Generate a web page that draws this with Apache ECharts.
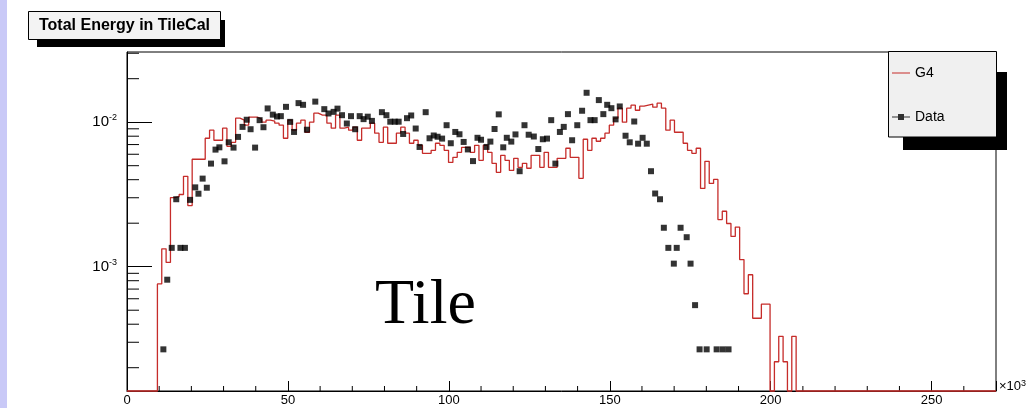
<!DOCTYPE html>
<html>
<head>
<meta charset="utf-8">
<title>Total Energy in TileCal</title>
<script src="https://cdn.jsdelivr.net/npm/echarts@6/dist/echarts.min.js"></script>
<style>
  html, body { margin: 0; padding: 0; background: #fff; }
  #chart { width: 1030px; height: 408px; }
</style>
</head>
<body>
<div id="chart"></div>
<script>
// histogram binning (x in units of 10^3)
const binWidth = 1.35

// G4 simulation, normalised contents per bin (200 bins, 0 .. 270)
const g4Counts = [
  0, 0, 0, 0, 0, 0, 0, 0.00076, 0.00133, 0.00107,
  0.00301, 0.00306, 0.00316, 0.00422, 0.00265, 0.00554, 0.00554, 0.00554, 0.00774, 0.0088,
  0.0075, 0.0075, 0.00909, 0.00681, 0.00726, 0.01066, 0.01033, 0.00953, 0.01083, 0.01083,
  0.0105, 0.0100, 0.01033, 0.01016, 0.00984, 0.00953, 0.00774, 0.01033, 0.0088, 0.00984,
  0.01033, 0.00852, 0.0100, 0.01155, 0.01119, 0.01119, 0.00984, 0.00909, 0.01119, 0.00909,
  0.00923, 0.0088, 0.00923, 0.0075, 0.00909, 0.00909, 0.00984, 0.00839, 0.00726, 0.00923,
  0.00715, 0.00715, 0.00839, 0.00923, 0.00839, 0.00715, 0.0075, 0.00692, 0.00609, 0.00609,
  0.00639, 0.00715, 0.00692, 0.00639, 0.00527, 0.00571, 0.00619, 0.0067, 0.0067, 0.00619,
  0.00692, 0.00545, 0.00692, 0.00619, 0.00519, 0.0045, 0.0059, 0.00545, 0.00464, 0.00562,
  0.00487, 0.00519, 0.0048, 0.0059, 0.0059, 0.00487, 0.00619, 0.00487, 0.00487, 0.00562,
  0.00562, 0.0066, 0.00571, 0.00571, 0.00409, 0.00762, 0.00639, 0.00774, 0.00738, 0.00774,
  0.00839, 0.00953, 0.01066, 0.0125, 0.0100, 0.0125, 0.01312, 0.0121, 0.0129, 0.01312,
  0.01334, 0.0127, 0.01355, 0.0125, 0.0088, 0.01033, 0.00852, 0.00852, 0.00715, 0.00639,
  0.00609, 0.0066, 0.00348, 0.00536, 0.00377, 0.00402, 0.00212, 0.00242, 0.00199, 0.00162,
  0.00188, 0.00112, 0.00065, 0.00088, 0.00044, 0.00044, 0.00055, 0.00055, 0, 0.00022,
  0.00033, 0.00022, 0, 0.00033, 0, 0, 0, 0, 0, 0,
  0, 0, 0, 0, 0, 0, 0, 0, 0, 0,
  0, 0, 0, 0, 0, 0, 0, 0, 0, 0,
  0, 0, 0, 0, 0, 0, 0, 0, 0, 0,
  0, 0, 0, 0, 0, 0, 0, 0, 0, 0
]

// test beam data points
const dataEnergy = [
  11.3, 12.5, 13.9, 15.3, 16.6, 18.0, 19.6, 21.2, 22.2, 23.5,
  24.8, 26.1, 27.5, 28.7, 30.3, 31.6, 33.1, 34.5, 35.9, 37.2,
  38.4, 39.8, 41.2, 42.4, 43.7, 45.3, 46.6, 47.8, 49.4, 50.7,
  51.9, 53.3, 54.7, 55.9, 58.5, 61.3, 62.6, 64.2, 65.4, 66.8,
  68.3, 69.6, 70.9, 72.3, 73.5, 74.8, 76.1, 79.2, 80.6, 81.8,
  83.2, 84.4, 85.8, 87.0, 88.3, 89.7, 90.9, 92.8, 94.0, 95.3,
  96.5, 97.9, 99.3, 100.6, 102.0, 103.3, 104.6, 105.9, 107.5, 108.9,
  110.0, 111.7, 112.9, 114.2, 115.5, 116.9, 118.0, 119.4, 120.7, 122.0,
  123.5, 124.8, 126.4, 127.8, 129.2, 130.5, 131.8, 133.1, 134.5, 135.7,
  137.0, 138.3, 139.9, 141.4, 142.8, 144.0, 145.3, 146.6, 148.0, 149.2,
  150.5, 151.8, 153.1, 154.9, 156.2, 157.6, 158.8, 160.2, 161.5, 162.8,
  164.1, 165.6, 166.8, 168.2, 169.9, 170.8, 172.0, 173.9, 175.1, 176.5,
  177.9, 180.1, 183.2, 185.1, 186.9
]
const dataValues = [
  0.000268, 0.000813, 0.00135, 0.00293, 0.00135, 0.00135, 0.0029, 0.00354, 0.0032, 0.00407,
  0.00352, 0.00517, 0.00646, 0.0067, 0.00536, 0.00726, 0.00667, 0.00791, 0.00928, 0.0104,
  0.00894, 0.00667, 0.01033, 0.00923, 0.01245, 0.01128, 0.01095, 0.01101, 0.01277, 0.01005,
  0.00856, 0.01355, 0.01319, 0.00887, 0.01388, 0.01231, 0.01149, 0.01179, 0.01241, 0.01118,
  0.00979, 0.01101, 0.00894, 0.01101, 0.0105, 0.01092, 0.01021, 0.01173, 0.01118, 0.01008,
  0.01008, 0.01008, 0.00829, 0.01066, 0.01113, 0.00904, 0.00674, 0.01173, 0.00774, 0.00809,
  0.00793, 0.0077, 0.00953, 0.00715, 0.00856, 0.00825, 0.0073, 0.00648, 0.00538, 0.0078,
  0.00756, 0.00674, 0.00734, 0.00897, 0.01133, 0.0067, 0.0078, 0.00734, 0.00823, 0.00458,
  0.00953, 0.00819, 0.00796, 0.00652, 0.00762, 0.0077, 0.01033, 0.00517, 0.00856, 0.00928,
  0.01137, 0.0075, 0.00953, 0.0120, 0.01598, 0.01033, 0.01033, 0.01422, 0.01137, 0.01319,
  0.0125, 0.01046, 0.01285, 0.00806, 0.00726, 0.01011, 0.0071, 0.0078, 0.0071, 0.00458,
  0.00321, 0.00293, 0.00186, 0.00135, 0.00105, 0.00135, 0.00186, 0.0016, 0.00105, 0.000542,
  0.000268, 0.000268, 0.000268, 0.000268, 0.000268
]

// axes
const xLabels = [0, 50, 100, 150, 200, 250]
const xMinorTicks = [
  10, 20, 30, 40, 60, 70, 80, 90, 110, 120, 130, 140, 160, 170, 180, 190,
  210, 220, 230, 240, 260
]
const yLabels = [0.001, 0.01]
const yMinorTicks = [
  0.0002, 0.0003, 0.0004, 0.0005, 0.0006, 0.0007, 0.0008, 0.0009,
  0.002, 0.003, 0.004, 0.005, 0.006, 0.007, 0.008, 0.009,
  0.02, 0.03
]
const yMin = 0.000138
const yMax = 0.0306

const FONT = '"Liberation Sans", Arial, Helvetica, sans-serif'
const RED = '#c62c2a'

const chart = echarts.init(document.getElementById('chart'), null, { renderer: 'canvas' })

/**
 * histogram drawn as a step line through the bin edges,
 * empty bins sit on the frame bottom like ROOT does
 */
const g4Points = g4Counts.map((v, i) => [i * binWidth, v > 0 ? v : yMin])
g4Points.push([g4Counts.length * binWidth, yMin])

const dataPoints = dataEnergy.map((x, i) => [x, dataValues[i]])

const isPow10 = v => Math.abs(Math.log10(v) - Math.round(Math.log10(v))) < 1e-6

const option = {
  animation: false,
  grid: {
    left: 127,
    right: 34,
    top: 52,
    bottom: 17,
    show: true,
    borderColor: '#000',
    borderWidth: 1,
    backgroundColor: 'transparent'
  },
  legend: {
    data: [
      // the thin sliver keeps the icon box 6px tall so the line is not stretched
      { name: 'G4', icon: 'path://M0,2.4h18v1.2h-18z M0,0h0.01v6h-0.01z' },
      { name: 'Data', icon: 'path://M0,2.5h18v1h-18z M6,0h6v6h-6z' }
    ],
    orient: 'vertical',
    left: 892,
    top: 66,
    itemWidth: 18,
    itemHeight: 6,
    itemGap: 30,
    padding: 0,
    selectedMode: false,
    z: 60,
    textStyle: { fontSize: 14, fontFamily: FONT, color: '#000' }
  },
  xAxis: {
    type: 'value',
    min: 0,
    max: 270,
    interval: 50,
    axisLine: { onZero: false, lineStyle: { color: '#000', width: 1 } },
    axisTick: { inside: true, length: 10, lineStyle: { color: '#000' } },
    axisLabel: {
      margin: 3,
      fontSize: 13,
      fontFamily: FONT,
      color: '#000',
      formatter: v => (xLabels.includes(v) ? String(v) : '')
    },
    splitLine: { show: false }
  },
  yAxis: {
    type: 'log',
    logBase: 10,
    min: yMin,
    max: yMax,
    axisLine: { show: true, onZero: false, lineStyle: { color: '#000', width: 1 } },
    axisTick: { show: true, inside: true, length: 25, lineStyle: { color: '#000' } },
    splitLine: { show: false },
    axisLabel: {
      margin: 10,
      color: '#000',
      showMinLabel: false,
      showMaxLabel: false,
      formatter: v => {
        if (!isPow10(v) || !yLabels.some(l => Math.abs(l - v) / l < 1e-6)) return ''
        return '{b|10}{s|' + Math.round(Math.log10(v)) + '}'
      },
      rich: {
        b: { fontSize: 15, fontFamily: FONT, color: '#000', lineHeight: 18 },
        s: { fontSize: 9, fontFamily: FONT, color: '#000', lineHeight: 10, verticalAlign: 'top' }
      }
    }
  },
  graphic: [
    // slide edge
    { type: 'rect', z: 50, shape: { x: 0, y: 0, width: 7, height: 408 }, style: { fill: '#c9c9f7' } },
    // title box with shadow
    { type: 'rect', z: 50, shape: { x: 37, y: 20, width: 188, height: 27 }, style: { fill: '#000' } },
    {
      type: 'rect', z: 51,
      shape: { x: 28.5, y: 11.5, width: 192, height: 28 },
      style: { fill: '#f3f3f3', stroke: '#000', lineWidth: 1 }
    },
    {
      type: 'text', z: 52,
      style: {
        text: 'Total Energy in TileCal', x: 124.5, y: 26,
        align: 'center', verticalAlign: 'middle',
        font: 'bold 16px ' + FONT, fill: '#000'
      }
    },
    // legend box with shadow
    { type: 'rect', z: 50, shape: { x: 903, y: 72, width: 104, height: 78 }, style: { fill: '#000' } },
    {
      type: 'rect', z: 51,
      shape: { x: 888.5, y: 51.5, width: 108, height: 85.5 },
      style: { fill: '#f0f0f0', stroke: '#000', lineWidth: 1 }
    },
    // big label
    {
      type: 'text', z: 52,
      style: {
        text: 'Tile', x: 375, y: 306, verticalAlign: 'middle',
        font: '64px "Liberation Serif", "Times New Roman", serif', fill: '#000'
      }
    },
    // x axis multiplier
    {
      type: 'text', z: 52,
      style: {
        text: '×10{s|3}', x: 999, y: 386, verticalAlign: 'middle',
        font: '13px ' + FONT, fill: '#000',
        rich: {
          s: { fontSize: 9, fontFamily: FONT, fill: '#000', verticalAlign: 'top', lineHeight: 9 }
        }
      }
    }
  ],
  series: [
    {
      name: 'G4',
      type: 'line',
      step: 'end',
      data: g4Points,
      symbol: 'none',
      clip: false,
      z: 3,
      lineStyle: { color: RED, width: 1.3 },
      itemStyle: { color: RED },
      emphasis: { disabled: true }
    },
    {
      name: 'Data',
      type: 'scatter',
      data: dataPoints,
      symbol: 'rect',
      symbolSize: 6,
      z: 4,
      itemStyle: { color: '#000' },
      emphasis: { disabled: true }
    },
    {
      // minor ticks of the log axis (2..9 per decade)
      type: 'custom',
      silent: true,
      z: 3,
      data: yMinorTicks.map(v => [0, v]),
      renderItem: (params, api) => {
        const p = api.coord([0, api.value(1)])
        return {
          type: 'line',
          shape: { x1: p[0], y1: p[1], x2: p[0] + 12, y2: p[1] },
          style: { stroke: '#000', lineWidth: 1 }
        }
      }
    },
    {
      // minor ticks of the x axis
      type: 'custom',
      silent: true,
      z: 3,
      data: xMinorTicks.map(v => [v, yMin]),
      renderItem: (params, api) => {
        const p = api.coord([api.value(0), yMin])
        return {
          type: 'line',
          shape: { x1: p[0], y1: p[1], x2: p[0], y2: p[1] - 5 },
          style: { stroke: '#000', lineWidth: 1 }
        }
      }
    }
  ]
}

chart.setOption(option)
</script>
</body>
</html>
